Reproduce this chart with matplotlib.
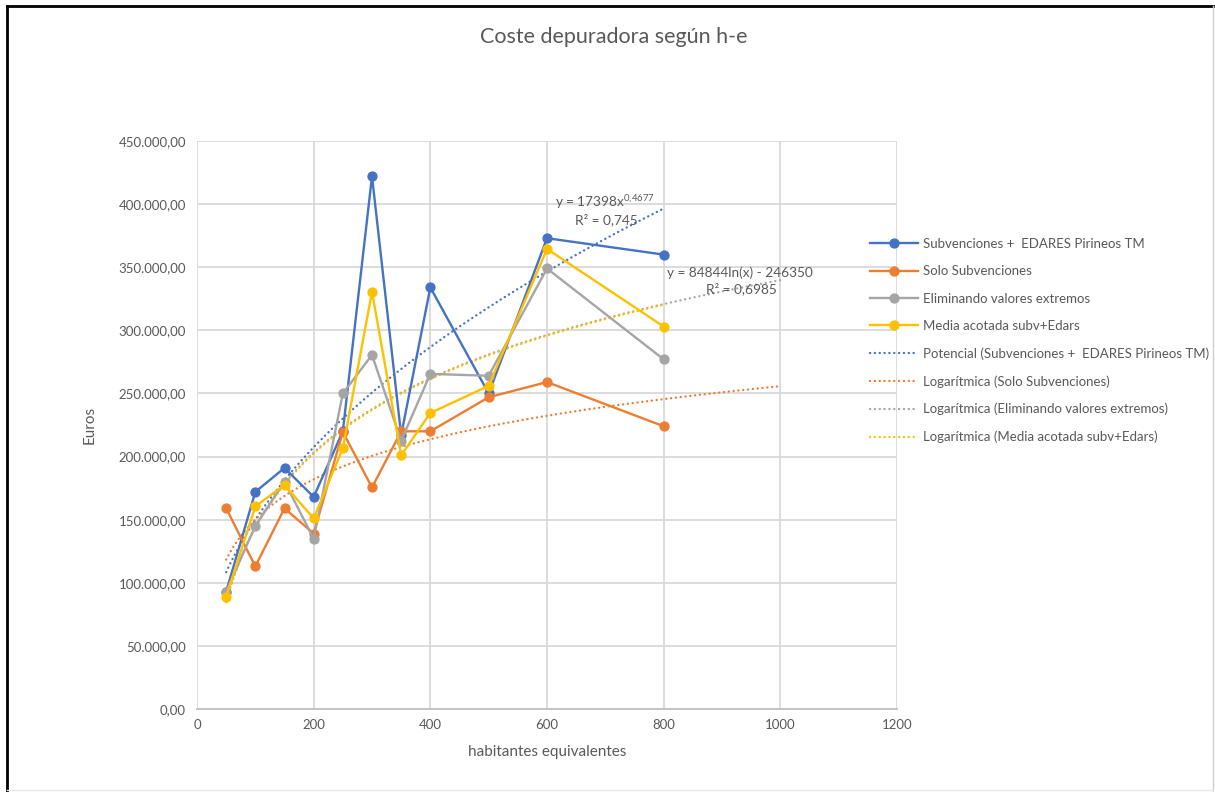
import numpy as np
import matplotlib
matplotlib.use("Agg")
import matplotlib.pyplot as plt
from matplotlib.ticker import FuncFormatter, MultipleLocator
from matplotlib.lines import Line2D

plt.rcParams['font.family'] = ['Lato', 'DejaVu Sans']
plt.rcParams['mathtext.default'] = 'regular'

# ---- data ----
x_he = [50, 100, 150, 200, 250, 300, 350, 400, 500, 600, 800]
subv_edares = [93000, 172000, 191000, 168000, 220000, 422000, 217000, 334000, 250000, 373000, 360000]
solo_subv = [159000, 113000, 159000, 139000, 219500, 175500, 220000, 220000, 247000, 259000, 224000]
elim_extremos = [93000, 145000, 180000, 135000, 250000, 280500, 212500, 265500, 264000, 349000, 277000]
media_acotada = [89000, 160500, 177500, 151000, 206500, 330500, 201000, 234500, 256000, 364500, 303000]

series_names = ["Subvenciones +  EDARES Pirineos TM", "Solo Subvenciones",
                "Eliminando valores extremos", "Media acotada subv+Edars"]
trend_names = ["Potencial (Subvenciones +  EDARES Pirineos TM)", "Logarítmica (Solo Subvenciones)",
               "Logarítmica (Eliminando valores extremos)", "Logarítmica (Media acotada subv+Edars)"]
colors = ["#4472C4", "#ED7D31", "#A5A5A5", "#FFC000"]

# displayed trendline equations
pow_a, pow_b = 17398, 0.4677
log_a_gray, log_b_gray = 84844, -246350
trend_end = [800, 1000, 1000, 800]

W, H = 1215, 792
fig = plt.figure(figsize=(W / 100, H / 100), dpi=100)
fig.patch.set_facecolor('white')

L, R, T, B = 197, 897, 141, 709
ax = fig.add_axes([L / W, (H - B) / H, (R - L) / W, (B - T) / H])

txt = '#595959'
grid = '#D9D9D9'
dot = (0, (0.05, 2.0))

all_series = [subv_edares, solo_subv, elim_extremos, media_acotada]
xa = np.array(x_he, dtype=float)

# trendlines
for i, (ys, c) in enumerate(zip(all_series, colors)):
    xt = np.linspace(50, trend_end[i], 300)
    if i == 0:
        yt = pow_a * xt ** pow_b
    elif i == 2:
        yt = log_a_gray * np.log(xt) + log_b_gray
    else:
        a, b = np.polyfit(np.log(xa), np.array(ys, dtype=float), 1)
        yt = a * np.log(xt) + b
    ax.plot(xt, yt, color=c, lw=1.7, linestyle=dot, dash_capstyle='round', zorder=3)

# series
for ys, c in zip(all_series, colors):
    ax.plot(x_he, ys, color=c, lw=1.7, marker='o', ms=6.4, zorder=4)

ax.set_xlim(0, 1200)
ax.set_ylim(0, 450000)
ax.xaxis.set_major_locator(MultipleLocator(200))
ax.yaxis.set_major_locator(MultipleLocator(50000))

def fmt(v, pos):
    s = f"{v:,.2f}"
    return s.replace(",", "X").replace(".", ",").replace("X", ".")

ax.yaxis.set_major_formatter(FuncFormatter(fmt))
ax.grid(True, color=grid, lw=1.3, zorder=0)
ax.set_axisbelow(True)
for s in ['top', 'right', 'left']:
    ax.spines[s].set_visible(False)
ax.spines['bottom'].set_color('#BFBFBF')
ax.spines['bottom'].set_linewidth(1.3)
ax.tick_params(axis='both', length=0, colors=txt, labelsize=9.5)
ax.tick_params(axis='x', pad=7)
ax.tick_params(axis='y', pad=8)

fig.text(614 / W, 1 - 37 / H, "Coste depuradora según h-e", ha='center', va='center',
         fontsize=15.5, color=txt)
fig.text(90 / W, 1 - 425 / H, "Euros", ha='center', va='center', rotation=90,
         fontsize=11, color=txt)
fig.text(547 / W, 1 - 752 / H, "habitantes equivalentes", ha='center', va='center',
         fontsize=11, color=txt)

# trendline labels
ax.text(699, 402000, "y = 17398x$^{0{,}4677}$", ha='center', va='center', fontsize=9.8, color=txt, zorder=5)
ax.text(701, 388000, "R² = 0,745", ha='center', va='center', fontsize=9.8, color=txt, zorder=5)
ax.text(931, 346000, "y = 84844ln(x) - 246350", ha='center', va='center', fontsize=9.8, color=txt, zorder=5)
ax.text(933, 333000, "R² = 0,6985", ha='center', va='center', fontsize=9.8, color=txt, zorder=5)

# legend
handles = []
for n, c in zip(series_names, colors):
    handles.append(Line2D([], [], color=c, lw=1.7, marker='o', ms=6.4, label=n))
for n, c in zip(trend_names, colors):
    handles.append(Line2D([], [], color=c, lw=1.7, linestyle=dot, dash_capstyle='round', label=n))
leg = fig.legend(handles=handles, loc='upper left', bbox_to_anchor=(870 / W, 1 - 238 / H),
                 frameon=False, fontsize=9.5, labelcolor=txt, handlelength=3.6,
                 labelspacing=1.16, handletextpad=0.45, borderaxespad=0, borderpad=0)

# outer border (screenshot frame)
fig.add_artist(Line2D([7 / W, 7 / W], [0, 1 - 6 / H], color='black', lw=2))
fig.add_artist(Line2D([7 / W, 1213 / W], [1 - 6 / H, 1 - 6 / H], color='black', lw=2))
fig.add_artist(Line2D([1213 / W, 1213 / W], [0, 1 - 6 / H], color='#CFCFCF', lw=1))
fig.add_artist(Line2D([7 / W, 1213 / W], [1 - 790 / H, 1 - 790 / H], color='#E6E6E6', lw=1))

fig.savefig("out.png", dpi=100, facecolor='white')
